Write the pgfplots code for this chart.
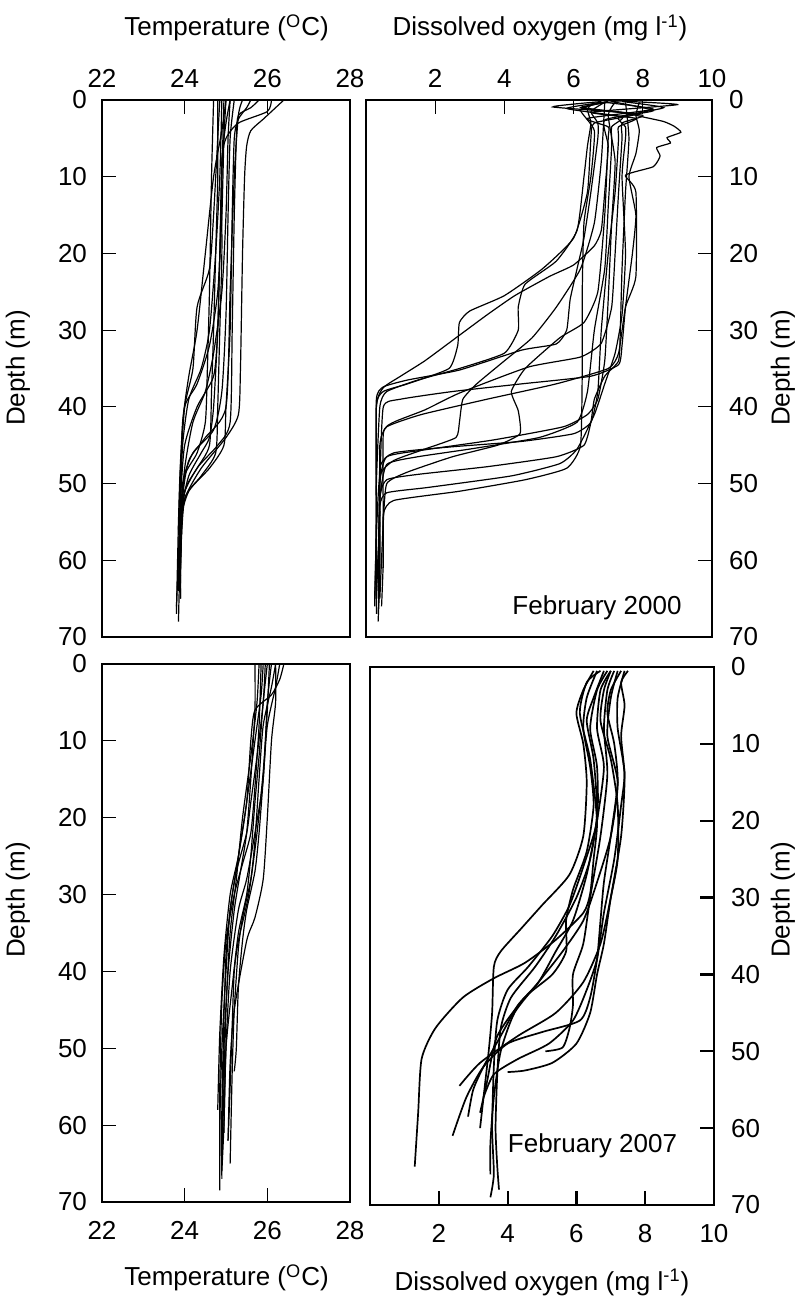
\documentclass[border=0pt]{standalone}
\usepackage{fontspec}
\setmainfont{Liberation Sans}
\usepackage{pgfplots}
\pgfplotsset{compat=1.18}
\begin{document}
\fontsize{13}{15}\selectfont
\begin{tikzpicture}
\useasboundingbox (0pt,0pt) rectangle (398pt,649pt);
\coordinate (TL) at (51pt,330.5pt);
\coordinate (TR) at (183pt,330.5pt);
\coordinate (BL) at (51pt,48pt);
\coordinate (BR) at (185pt,46.5pt);
\pgfplotsset{
  prof/.style={black, line width=0.6pt, mark=none, smooth, tension=0.4},
  profr/.style={black, line width=0.6pt, mark=none, smooth, tension=0.3},
  prof2/.style={black, line width=0.85pt, mark=none, smooth, tension=0.4},
  panel/.style={scale only axis, anchor=south west, y dir=reverse, ymin=0, ymax=70,
    ytick={0,10,...,70}, tick align=inside,
    /pgf/number format/assume math mode=true,
    ticklabel style={font=\fontsize{13}{15}\selectfont},
    axis line style={line width=0.6pt},
    major tick style={line width=0.6pt, black},
    major tick length=7pt, clip=true},
}
% ---------- Top-left: temperature Feb 2000
\begin{axis}[panel, at={(TL)}, width=124pt, height=268.5pt,
  xmin=22, xmax=28, xtick={22,24,26,28},
  xtick pos=right, xticklabel pos=right, ytick pos=left, yticklabel pos=left,
  xticklabel style={anchor=base, yshift=6.5pt},
  yticklabel style={xshift=-3pt}]
\addplot[prof] coordinates {(26.4,0)(26.2,1)(25.9,2.5)(25.6,4)(25.5,6)(25.45,10)(25.4,20)(25.35,35)(25.3,41)(25.0,44)(24.4,48)(24.0,52)(23.9,57)(23.85,64)};
\addplot[prof] coordinates {(26.1,0)(26.0,1.5)(25.3,3)(25.0,5)(24.9,8)(24.85,20)(24.8,30)(24.7,36)(24.3,40)(24.0,45)(23.9,52)(23.85,60)(23.8,66)};
\addplot[prof] coordinates {(25.8,0)(25.6,1)(25.3,2)(25.25,5)(25.2,15)(25.15,30)(25.1,42)(24.8,45)(24.3,48)(23.95,52)(23.9,60)(23.9,65)};
\addplot[prof] coordinates {(25.4,0)(25.3,2)(25.2,10)(25.1,25)(25.0,40)(24.5,44)(24.1,47)(23.95,52)(23.9,62)};
\addplot[prof] coordinates {(25.1,0)(25.05,5)(25.0,15)(24.9,25)(24.7,33)(24.5,38)(24.2,42)(24.0,48)(23.9,55)(23.85,63)};
\addplot[prof] coordinates {(25.0,0)(24.95,5)(24.9,15)(24.8,25)(24.6,32)(24.3,37)(24.0,40)(23.9,47)(23.85,55)(23.8,67)};
\addplot[prof] coordinates {(24.9,0)(24.85,10)(24.75,20)(24.6,30)(24.4,35)(24.1,39)(23.95,45)(23.9,53)(23.85,60)};
\addplot[prof] coordinates {(24.8,0)(24.8,10)(24.75,20)(24.7,30)(24.65,38)(24.6,45)(24.3,48)(24.0,51)(23.9,58)(23.85,68)};
\addplot[prof] coordinates {(24.7,0)(24.65,10)(24.6,25)(24.55,35)(24.5,42)(24.3,46)(24.0,49)(23.9,55)(23.85,64)};
\addplot[prof] coordinates {(25.0,0)(24.9,4)(24.7,10)(24.5,20)(24.3,30)(24.1,36)(23.95,42)(23.9,50)(23.85,60)};
\addplot[prof] coordinates {(25.1,0)(25.0,3)(24.9,8)(24.9,20)(24.85,30)(24.8,40)(24.75,46)(24.4,49)(24.0,52)(23.9,60)(23.9,65)};
\addplot[prof] coordinates {(25.2,0)(25.1,5)(25.05,15)(25.0,28)(24.9,38)(24.7,43)(24.2,46)(23.95,50)(23.9,58)};
\addplot[prof] coordinates {(24.85,0)(24.8,5)(24.7,15)(24.6,22)(24.3,27)(24.2,35)(24.0,40)(23.9,48)(23.85,56)};
\addplot[prof] coordinates {(24.95,0)(24.9,10)(24.85,20)(24.8,30)(24.7,40)(24.6,44)(24.4,46)(24.1,49)(23.95,53)(23.9,61)};
\addplot[prof] coordinates {(25.6,0)(25.5,1)(25.3,2.5)(25.2,5)(25.15,15)(25.1,30)(25.0,40)(24.95,45)(24.6,48)(24.1,51)(23.9,55)(23.9,63)};
\end{axis}
% ---------- Top-right: DO Feb 2000
\begin{axis}[panel, at={(TR)}, width=173pt, height=268.5pt,
  xmin=0, xmax=10, xtick={2,4,6,8,10},
  xtick pos=right, xticklabel pos=right, ytick pos=right, yticklabel pos=right,
  xticklabel style={anchor=base, yshift=6.5pt},
  yticklabel style={xshift=4pt}]
\addplot[profr] coordinates {(6.6,0.3)(6.4,1.2)(6.5,3)(6.4,6)(6.3,10)(6.1,17)(5.5,21)(4.6,24)(4.4,27)(4.4,30)(4.0,33)(2.7,35)(1.5,36.5)(0.6,38)(0.4,40)(0.3,50)(0.3,60)(0.3,65)};
\addplot[profr] coordinates {(6.8,0.2)(5.4,0.9)(7.8,1.8)(6.6,3)(6.5,5)(6.4,12)(6.0,18)(5.1,22)(4.0,25.5)(3.0,27.5)(2.7,29)(2.65,32)(2.4,35)(1.2,37)(0.5,38)(0.3,40)(0.3,55)(0.25,65)};
\addplot[profr] coordinates {(6.9,0.3)(8.3,1.2)(6.4,2.4)(7.0,3.5)(7.0,5)(6.9,15)(6.7,25)(6.3,29)(5.6,31)(4.6,35)(4.2,38)(4.4,40.5)(4.45,43.5)(3.8,45)(2.5,46.5)(1.2,48.5)(0.6,50)(0.5,55)(0.4,65)};
\addplot[profr] coordinates {(6.8,0.2)(6.2,1.3)(6.6,4)(6.5,10)(6.3,16)(6.25,25)(6.25,35)(6.2,45)(5.8,48)(4.6,49.5)(2.7,51)(0.8,52.2)(0.5,54)(0.5,60)(0.45,66)};
\addplot[profr] coordinates {(7.2,0.1)(9.0,0.6)(6.5,1.6)(7.8,2.4)(7.3,3.5)(7.3,5)(7.2,12)(7.0,20)(6.8,30)(6.7,38)(6.5,42)(6.0,43.5)(4.5,44.5)(2.5,45.2)(0.8,46)(0.4,48)(0.4,58)(0.35,64)};
\addplot[profr] coordinates {(7.0,0.2)(5.8,1.1)(7.4,2.2)(7.1,3.5)(7.1,6)(7.0,14)(6.9,22)(6.6,30)(6.4,38)(6.1,42)(5.0,44)(3.0,45.5)(1.5,46.5)(0.6,47.5)(0.4,52)(0.35,62)};
\addplot[profr] coordinates {(7.0,0.2)(6.3,1)(7.4,1.6)(8.0,2.2)(8.6,2.8)(8.9,3.4)(9.1,4.2)(8.7,4.9)(8.8,5.6)(8.4,6.2)(8.5,7.3)(8.3,8.7)(7.5,9.8)(7.8,12)(7.8,23)(7.5,27)(7.3,33)(7.0,35)(5.5,37)(3.5,39)(1.6,41)(0.6,42.6)(0.4,45)(0.4,55)(0.3,63)};
\addplot[profr] coordinates {(7.9,0.3)(7.8,2)(7.9,4)(7.8,7)(7.6,10)(7.8,15)(7.7,20)(7.5,27)(7.4,32)(7.3,34.5)(6.5,36)(4.5,37)(2.5,38)(1.0,39)(0.5,40)(0.4,50)(0.35,60)(0.3,64)};
\addplot[profr] coordinates {(7.1,0.2)(8.3,1.4)(6.9,2.6)(7.0,6)(6.9,12)(6.8,17)(6.6,19)(6.0,21.5)(5.3,23)(4.3,25.5)(3.5,28)(2.6,31)(1.7,34)(1.0,36)(0.5,37.5)(0.3,40)(0.3,55)(0.25,66)};
\addplot[profr] coordinates {(6.9,0.3)(6.5,1.5)(6.7,3)(6.7,5)(6.5,12)(6.3,18)(6.1,22)(5.9,26)(5.8,30)(5.5,31.8)(4.5,32.6)(2.7,35.2)(1.2,36.5)(0.5,37.4)(0.3,39)(0.3,50)(0.3,60)(0.3,67)};
\addplot[profr] coordinates {(7.3,0.1)(6.2,1.0)(8.0,2)(7.4,3)(7.4,5)(7.3,12)(7.2,20)(7.1,27)(6.8,31.7)(6.2,33.5)(4.7,34.8)(2.7,38.2)(1.7,40.4)(0.8,42)(0.5,43.5)(0.5,55)(0.5,61)};
\addplot[profr] coordinates {(6.9,0.3)(6.8,8)(6.6,16)(6.2,22)(5.5,27)(4.8,31)(4.0,34)(3.2,37)(2.8,39)(2.7,42)(2.6,44)(1.7,45.5)(0.8,47)(0.4,49)(0.3,57)(0.3,66)};
\addplot[profr] coordinates {(7.2,0.3)(7.0,2)(7.2,8)(7.1,16)(7.0,26)(6.9,34)(6.7,39)(6.4,41)(5.7,42.6)(3.7,44.3)(1.7,45.6)(0.6,46.5)(0.4,50)(0.4,60)(0.35,67)};
\addplot[profr] coordinates {(7.4,0.2)(8.6,1.0)(7.3,2.2)(7.5,3.5)(7.5,5)(7.4,10)(7.5,20)(7.4,28)(7.2,33)(6.9,37)(6.6,41)(6.1,45.5)(5.6,47.4)(4.2,49)(1.8,50.5)(0.6,51.2)(0.4,53)(0.4,62)(0.35,68)};
\addplot[profr] coordinates {(7.5,0.3)(7.6,5)(7.5,12)(7.4,22)(7.35,30)(7.3,34)(6.9,36)(6.6,39)(6.5,42)(6.3,45)(5.5,46.5)(3.5,47.8)(1.5,48.8)(0.6,49.5)(0.4,52)(0.35,65)};
\end{axis}
% ---------- Bottom-left: temperature Feb 2007
\begin{axis}[panel, at={(BL)}, width=124pt, height=269pt,
  xmin=22, xmax=28, xtick={22,24,26,28},
  xtick pos=left, xticklabel pos=left, ytick pos=left, yticklabel pos=left,
  xticklabel style={anchor=base, yshift=-18.6pt},
  yticklabel style={xshift=-3pt}]
\addplot[prof] coordinates {(26.4,0)(26.3,2)(26.1,4)(25.7,6)(25.6,10)(25.5,18)(25.3,25)(25.1,30)(24.95,38)(24.85,48)(24.8,58)};
\addplot[prof] coordinates {(26.2,0)(26.2,5)(26.1,10)(26.0,20)(25.9,28)(25.7,33)(25.5,36)(25.2,45)(25.1,52)(25.05,62)};
\addplot[prof] coordinates {(26.1,0)(26.0,5)(25.9,15)(25.7,22)(25.5,28)(25.3,32)(25.1,40)(25.0,50)(24.95,60)(24.9,66)};
\addplot[prof] coordinates {(26.0,0)(25.9,5)(25.8,12)(25.7,18)(25.6,25)(25.5,30)(25.3,35)(25.15,42)(25.0,50)(24.95,61)};
\addplot[prof] coordinates {(25.9,0)(25.85,4)(25.7,10)(25.5,18)(25.3,25)(25.1,32)(25.0,40)(24.9,50)(24.85,60)(24.85,68.5)};
\addplot[prof] coordinates {(25.8,0)(25.75,5)(25.6,12)(25.4,20)(25.25,28)(25.1,35)(25.0,45)(24.95,55)(24.9,65)};
\addplot[prof] coordinates {(25.7,0)(25.7,6)(25.6,15)(25.5,22)(25.35,27)(25.2,32)(25.05,40)(24.95,50)(24.9,63)};
\addplot[prof] coordinates {(26.2,0)(26.1,3)(25.9,8)(25.8,15)(25.7,23)(25.6,28)(25.4,33)(25.3,37)(25.2,45)(25.15,53)(25.1,65)};
\addplot[prof] coordinates {(26.3,0)(26.2,3)(26.0,8)(25.9,15)(25.8,22)(25.7,27)(25.5,32)(25.4,36)(25.3,42)(25.25,50)(25.2,53)};
\addplot[prof] coordinates {(25.95,0)(25.9,5)(25.75,12)(25.6,18)(25.5,22)(25.25,27)(25.1,32)(25.0,38)(24.95,46)(24.9,58)(24.9,67)};
\addplot[prof] coordinates {(26.05,0)(26.0,6)(25.9,14)(25.75,22)(25.55,30)(25.3,36)(25.2,40)(25.15,47)(25.1,55)(25.05,62)};
\addplot[prof] coordinates {(25.85,0)(25.8,8)(25.7,16)(25.6,22)(25.4,26)(25.2,30)(25.0,36)(24.9,44)(24.85,55)(24.85,64)};
\end{axis}
% ---------- Bottom-right: DO Feb 2007
\begin{axis}[panel, at={(BR)}, width=172pt, height=269pt,
  xmin=0, xmax=10, xtick={2,4,6,8,10},
  axis line style={line width=1.1pt}, major tick style={line width=1.1pt},
  xtick pos=left, xticklabel pos=left, ytick pos=right, yticklabel pos=right,
  xticklabel style={anchor=base, yshift=-18.6pt},
  yticklabel style={xshift=4pt}]
\addplot[prof2] coordinates {(6.7,0.5)(6.3,2)(6.1,6)(6.4,12)(6.6,20)(6.5,25)(6.4,29.5)(6.2,32)(5.4,35.5)(4.5,38.5)(3.6,40.5)(2.7,43)(1.9,47)(1.5,51)(1.4,58)(1.3,65)};
\addplot[prof2] coordinates {(6.5,0.5)(6.2,3)(6.0,6)(6.2,10)(6.3,15)(6.2,22)(5.8,27)(5.0,31)(4.4,34)(3.8,37)(3.6,39)(3.55,45)(3.45,50)(3.3,56)(3.2,60)};
\addplot[prof2] coordinates {(7.3,0.5)(7.0,3)(6.9,6)(7.1,10)(7.2,15)(7.0,22)(6.8,28)(6.7,33)(6.6,38)(6.4,43)(6.1,46)(5.0,47.5)(4.0,49)(3.3,52)(2.8,56)(2.4,61)};
\addplot[prof2] coordinates {(7.0,0.5)(6.8,3)(6.7,7)(7.0,12)(7.2,18)(7.2,25)(7.0,30)(6.7,36)(6.2,41)(5.4,45)(4.3,48)(3.2,51.5)(2.6,54.5)};
\addplot[prof2] coordinates {(7.1,0.5)(6.9,3)(6.8,8)(6.9,14)(6.7,22)(6.4,30)(6.2,36)(5.9,40)(5.9,44)(5.8,47)(5.6,49.5)(5.1,50)};
\addplot[prof2] coordinates {(7.4,0.5)(7.2,4)(7.2,8)(7.4,14)(7.3,22)(7.0,30)(6.8,36)(6.6,40)(6.4,45)(6.0,49)(5.3,51.5)(4.5,52.5)(4.0,52.7)};
\addplot[prof2] coordinates {(6.9,0.5)(6.6,3)(6.4,8)(6.6,13)(6.6,20)(6.2,26)(5.8,31)(5.3,35)(4.6,39)(4.0,42)(3.7,46)(3.6,52)(3.55,60)(3.6,66)(3.5,69)};
\addplot[prof2] coordinates {(6.8,0.5)(6.5,4)(6.3,7)(6.5,12)(6.6,19)(6.4,25)(6.0,30)(5.4,35)(4.8,39)(4.1,43)(3.8,47)(3.7,53)(3.65,60)(3.7,65)(3.75,68)};
\addplot[prof2] coordinates {(7.2,0.5)(7.0,4)(6.9,9)(7.2,15)(7.0,22)(6.6,28)(6.2,33)(5.6,37)(4.9,41)(4.2,45)(3.8,50)(3.6,56)(3.5,62)(3.5,66)};
\addplot[prof2] coordinates {(7.0,0.5)(6.7,3)(6.6,8)(6.8,13)(6.6,20)(6.3,27)(5.9,33)(5.4,37)(4.9,41)(4.3,44)(3.8,48)(3.3,52)(3.0,55)(2.85,58.5)};
\addplot[prof2] coordinates {(7.5,0.5)(7.3,2)(7.4,5)(7.3,9)(7.4,14)(7.3,18)(7.1,25)(6.8,32)(6.6,38)(6.3,42)(5.9,46)(5.2,49)(4.3,51)(3.6,53)(3.3,56)};
\addplot[prof2] coordinates {(6.6,0.5)(6.3,4)(6.2,8)(6.4,13)(6.5,18)(6.3,24)(5.9,29)(5.7,33)(5.7,37)(5.3,40)(4.5,43)(3.7,48)(3.4,54)(3.2,58)};
\end{axis}
% ---------- labels
\node[anchor=base] at (113.25pt,631pt) {Temperature (\textsuperscript{O}C)};
\node[anchor=base] at (270pt,631pt) {Dissolved oxygen (mg l\textsuperscript{-1})};
\node[anchor=base] at (113.25pt,6pt) {Temperature (\textsuperscript{O}C)};
\node[anchor=base] at (271pt,4pt) {Dissolved oxygen (mg l\textsuperscript{-1})};
\node[rotate=90] at (9pt,465pt) {Depth (m)};
\node[rotate=90] at (9pt,199pt) {Depth (m)};
\node[rotate=90] at (391.5pt,465pt) {Depth (m)};
\node[rotate=90] at (391.5pt,199pt) {Depth (m)};
\node[anchor=base] at (298.5pt,341.5pt) {February 2000};
\node[anchor=base] at (296.25pt,72.5pt) {February 2007};
\end{tikzpicture}
\end{document}
